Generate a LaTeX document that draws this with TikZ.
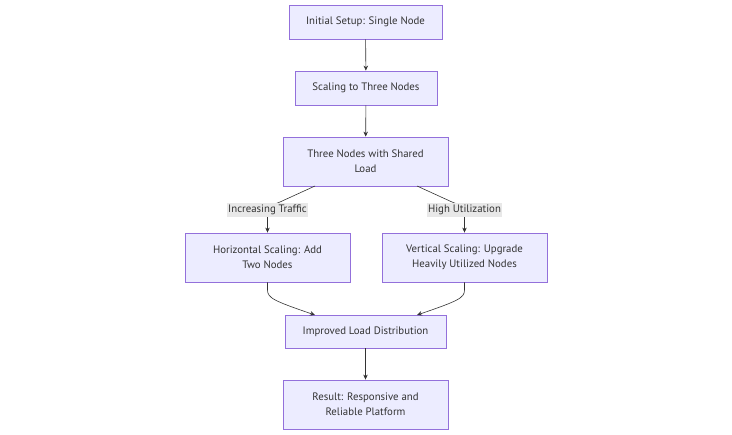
\documentclass[tikz,border=0pt]{standalone}
\usepackage{fontspec}
\setmainfont{PT Sans}
\usetikzlibrary{arrows.meta}
\definecolor{nodefill}{HTML}{ECECFF}
\definecolor{nodeborder}{HTML}{9370DB}
\definecolor{edgecol}{HTML}{333333}
\definecolor{labelbg}{HTML}{E8E8E8}
\begin{document}
\begin{tikzpicture}[x=1pt,y=-1pt,
  box/.style={draw=nodeborder,fill=nodefill,line width=0.8pt,inner sep=0pt,align=center,
    font=\fontsize{10.8}{15}\selectfont,text=edgecol},
  elabel/.style={fill=labelbg,inner xsep=1pt,inner ysep=2.5pt,font=\fontsize{10.8}{12}\selectfont,text=edgecol},
  edge/.style={draw=edgecol,line width=0.6pt,-{Stealth[length=5pt,width=4.5pt]}}]
\useasboundingbox (0,0) rectangle (732,435);
\node[box,minimum width=153,minimum height=34] (n1) at (365.5,22) {Initial Setup: Single Node};
\node[box,minimum width=142,minimum height=34] (n2) at (366,88) {Scaling to Three Nodes};
\node[box,minimum width=165,minimum height=49] (n3) at (365.5,161.5) {Three Nodes with Shared\\Load};
\node[box,minimum width=165,minimum height=49] (n4) at (267.5,257.5) {Horizontal Scaling: Add\\Two Nodes};
\node[box,minimum width=165,minimum height=49] (n5) at (464.5,257.5) {Vertical Scaling: Upgrade\\Heavily Utilized Nodes};
\node[box,minimum width=161,minimum height=33] (n6) at (365.5,331.5) {Improved Load Distribution};
\node[box,minimum width=165,minimum height=49] (n7) at (365.5,404.5) {Result: Responsive and\\Reliable Platform};

\coordinate (a1) at (315,186);
\coordinate (a2) at (417,186);
\coordinate (b1) at (315,315);
\coordinate (b2) at (417,315);
\coordinate (l1) at (267.5,210);
\coordinate (l2) at (464.5,210);

\draw[edge] (n1) -- (n2);
\draw[edge] (n2) -- (n3);
\draw[edge] (a1) -- (280,202) .. controls (270,206) .. (l1) -- (n4.north);
\draw[edge] (a2) -- (452,202) .. controls (462,206) .. (l2) -- (n5.north);
\draw[edge] (n4.south) -- (267.5,290) .. controls (267.5,298) and (274,301) .. (b1);
\draw[edge] (n5.south) -- (464.5,290) .. controls (464.5,298) and (458,301) .. (b2);
\draw[edge] (n6) -- (n7);

\node[elabel] (t1) at (l1) {Increasing Traffic};
\node[elabel] (t2) at (l2) {High Utilization};
\end{tikzpicture}
\end{document}
